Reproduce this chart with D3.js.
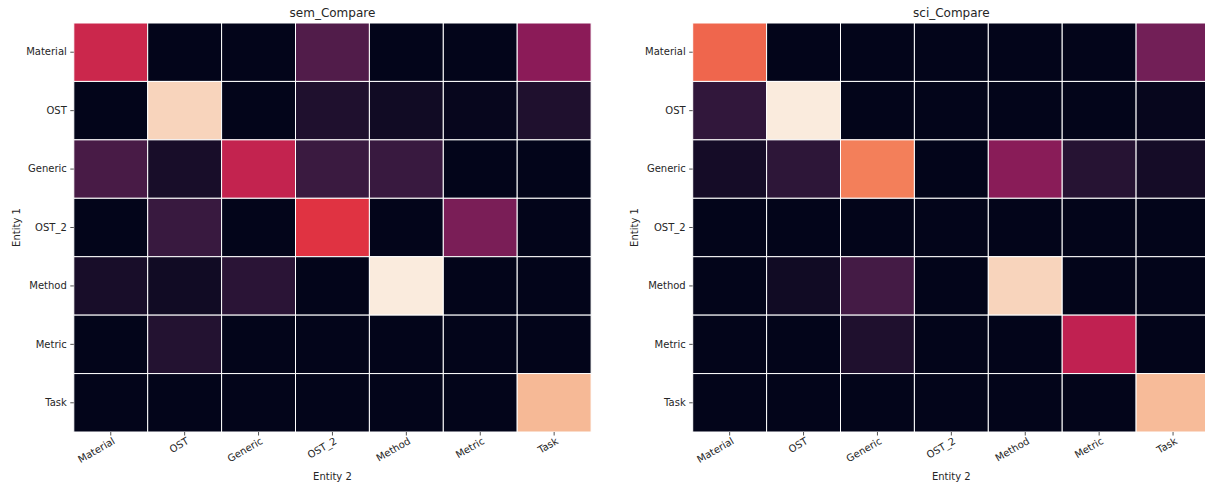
<!DOCTYPE html>
<html>
<head>
<meta charset="utf-8">
<script src="https://cdn.jsdelivr.net/npm/d3@7"></script>
<style>
  body { margin: 0; background: #ffffff; }
  svg text { font-family: "DejaVu Sans", sans-serif; fill: #262626; }
</style>
</head>
<body>
<svg id="chart"></svg>
<script>
// Category labels shared by both axes
const ENTITY_LABELS = ["Material", "OST", "Generic", "OST_2", "Method", "Metric", "Task"];

// Normalised values (rows = Entity 1, columns = Entity 2)
const SEM_VALUES = [
  [0.51, 0.00, 0.00, 0.21, 0.00, 0.00, 0.35],
  [0.00, 0.94, 0.00, 0.08, 0.04, 0.01, 0.08],
  [0.19, 0.06, 0.49, 0.155, 0.15, 0.00, 0.00],
  [0.00, 0.15, 0.00, 0.57, 0.00, 0.31, 0.00],
  [0.06, 0.04, 0.11, 0.00, 1.00, 0.00, 0.00],
  [0.00, 0.09, 0.00, 0.00, 0.00, 0.00, 0.00],
  [0.00, 0.00, 0.00, 0.00, 0.00, 0.00, 0.87]
];

const SCI_VALUES = [
  [0.68, 0.00, 0.00, 0.00, 0.00, 0.00, 0.29],
  [0.13, 1.00, 0.00, 0.00, 0.00, 0.00, 0.01],
  [0.05, 0.12, 0.735, 0.00, 0.345, 0.10, 0.05],
  [0.00, 0.00, 0.00, 0.00, 0.00, 0.00, 0.00],
  [0.00, 0.04, 0.18, 0.00, 0.94, 0.00, 0.00],
  [0.00, 0.00, 0.08, 0.00, 0.00, 0.48, 0.00],
  [0.00, 0.00, 0.00, 0.00, 0.00, 0.00, 0.875]
];

const PANEL_TITLES = ["sem_Compare", "sci_Compare"];

// Seaborn "rocket" colormap, sampled at steps of 1/7
const ROCKET_STOPS = ["#03051a", "#35193e", "#701f57", "#ad1759", "#e13342", "#f37651", "#f6b48f", "#faebdd"];

const WIDTH = 1205;
const HEIGHT = 488;

function initializeChart() {
  const svg = d3.select("#chart")
    .attr("width", WIDTH)
    .attr("height", HEIGHT);

  svg.append("rect")
    .attr("width", WIDTH)
    .attr("height", HEIGHT)
    .attr("fill", "#ffffff");

  const color = d3.scaleSequential(d3.piecewise(d3.interpolateRgb, ROCKET_STOPS))
    .domain([0, 1]);

  // Left and right heatmap boxes
  drawHeatmap(svg, { x: 73.8, y: 23, width: 517.3, height: 409, labelX: 19.5 }, SEM_VALUES, PANEL_TITLES[0], color);
  drawHeatmap(svg, { x: 692.7, y: 23, width: 517.3, height: 409, labelX: 637.5 }, SCI_VALUES, PANEL_TITLES[1], color);
}

// Draw one heatmap panel with its axes and labels
function drawHeatmap(svg, box, values, title, color) {
  const g = svg.append("g").attr("transform", `translate(${box.x},${box.y})`);

  const x = d3.scaleBand().domain(ENTITY_LABELS).range([0, box.width]);
  const y = d3.scaleBand().domain(ENTITY_LABELS).range([0, box.height]);

  const cells = [];
  values.forEach((row, i) => {
    row.forEach((v, j) => cells.push({ row: ENTITY_LABELS[i], col: ENTITY_LABELS[j], value: v }));
  });

  g.append("g")
    .selectAll("rect")
    .data(cells)
    .enter()
    .append("rect")
    .attr("x", d => x(d.col))
    .attr("y", d => y(d.row))
    .attr("width", x.bandwidth())
    .attr("height", y.bandwidth())
    .attr("fill", d => color(d.value))
    .attr("stroke", "#ffffff")
    .attr("stroke-width", 1);

  // Bottom axis with rotated labels
  const xAxis = g.append("g")
    .attr("transform", `translate(0,${box.height})`)
    .call(d3.axisBottom(x).tickSize(3.5).tickPadding(3.5));
  xAxis.select(".domain").remove();
  xAxis.selectAll("line").attr("stroke", "#262626").attr("stroke-width", 0.8);
  xAxis.selectAll("text")
    .attr("font-size", "10px")
    .attr("font-family", "DejaVu Sans")
    .attr("text-anchor", "end")
    .attr("dy", null)
    .attr("y", 0)
    .attr("transform", "translate(5,11) rotate(-30)");

  // Left axis
  const yAxis = g.append("g")
    .call(d3.axisLeft(y).tickSize(3.5).tickPadding(3.5));
  yAxis.select(".domain").remove();
  yAxis.selectAll("line").attr("stroke", "#262626").attr("stroke-width", 0.8);
  yAxis.selectAll("text")
    .attr("font-size", "10px")
    .attr("font-family", "DejaVu Sans");

  // Titles
  g.append("text")
    .attr("x", box.width / 2)
    .attr("y", -6)
    .attr("text-anchor", "middle")
    .attr("font-size", "12px")
    .text(title);

  g.append("text")
    .attr("x", box.width / 2)
    .attr("y", box.height + 47.5)
    .attr("text-anchor", "middle")
    .attr("font-size", "10px")
    .text("Entity 2");

  g.append("text")
    .attr("transform", `translate(${box.labelX - box.x},${box.height / 2}) rotate(-90)`)
    .attr("text-anchor", "middle")
    .attr("font-size", "10px")
    .text("Entity 1");
}

initializeChart();
</script>
</body>
</html>
